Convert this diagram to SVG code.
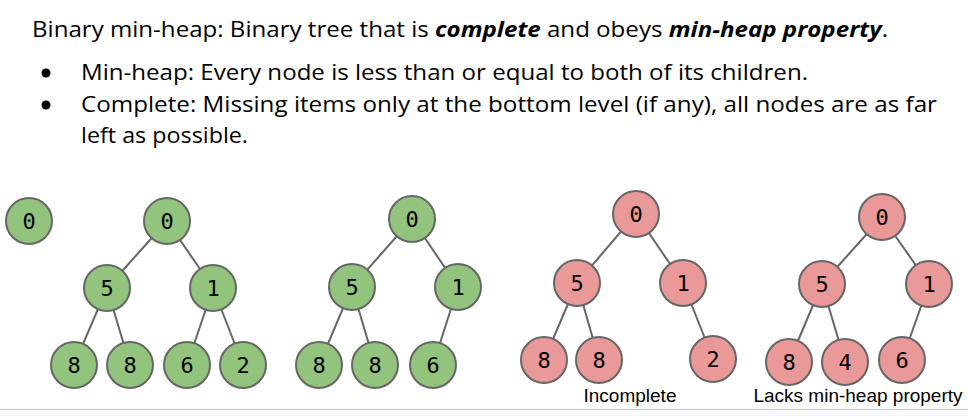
<svg xmlns="http://www.w3.org/2000/svg" width="968" height="416" viewBox="0 0 968 416">
<style>
.h{font-family:"Open Sans","Noto Sans",sans-serif;font-size:21px;fill:#000}
.bi{font-weight:bold;font-style:italic}
.g circle{fill:#93c47d;stroke:#666;stroke-width:2}
.r circle{fill:#ea9999;stroke:#666;stroke-width:2}
.n text{font-family:"DejaVu Sans Mono","Liberation Mono",monospace;font-size:22px;fill:#000;text-anchor:middle}
.e line{stroke:#666;stroke-width:2}
.lbl{font-family:"Liberation Sans",Arial,sans-serif;font-size:19px;fill:#000;text-anchor:middle}
</style>
<rect width="968" height="416" fill="#fff"/>
<rect x="0" y="409" width="968" height="7" fill="#f8f9fa"/>
<line x1="0" y1="409.5" x2="968" y2="409.5" stroke="#c8c8c8" stroke-width="1"/>
<text class="h" x="32" y="37" textLength="856" lengthAdjust="spacingAndGlyphs">Binary min-heap: Binary tree that is <tspan class="bi">complete</tspan> and obeys <tspan class="bi">min-heap property</tspan>.</text>
<circle cx="46" cy="73" r="4.5" fill="#000"/>
<circle cx="46" cy="105" r="4.5" fill="#000"/>
<text class="h" x="81" y="80" textLength="727" lengthAdjust="spacingAndGlyphs">Min-heap: Every node is less than or equal to both of its children.</text>
<text class="h" x="81" y="112" textLength="856" lengthAdjust="spacingAndGlyphs">Complete: Missing items only at the bottom level (if any), all nodes are as far</text>
<text class="h" x="81" y="143" textLength="167" lengthAdjust="spacingAndGlyphs">left as possible.</text>

<g id="connectors" class="e">
<line x1="167" y1="221" x2="107" y2="288"/>
<line x1="167" y1="221" x2="213" y2="288"/>
<line x1="107" y1="288" x2="74" y2="365"/>
<line x1="107" y1="288" x2="130" y2="365"/>
<line x1="213" y1="288" x2="187" y2="365"/>
<line x1="213" y1="288" x2="243" y2="365"/>

<line x1="412" y1="219" x2="352" y2="287"/>
<line x1="412" y1="219" x2="458" y2="287"/>
<line x1="352" y1="287" x2="319" y2="365"/>
<line x1="352" y1="287" x2="375" y2="365"/>
<line x1="458" y1="287" x2="433" y2="365"/>

<line x1="636" y1="214" x2="577" y2="283"/>
<line x1="636" y1="214" x2="683" y2="283"/>
<line x1="577" y1="283" x2="544" y2="360"/>
<line x1="577" y1="283" x2="599" y2="360"/>
<line x1="683" y1="283" x2="713" y2="359"/>

<line x1="882" y1="217" x2="822" y2="284"/>
<line x1="882" y1="217" x2="929" y2="284"/>
<line x1="822" y1="284" x2="789" y2="362"/>
<line x1="822" y1="284" x2="845" y2="362"/>
<line x1="929" y1="284" x2="902" y2="360"/>
</g>

<g class="g n">
<g id="a0"><circle cx="29" cy="221" r="23"/><text x="29" y="229">0</text></g>
<g id="b0"><circle cx="167" cy="221" r="23"/><text x="167" y="229">0</text></g>
<g id="b5"><circle cx="107" cy="288" r="23"/><text x="107" y="296">5</text></g>
<g id="b1"><circle cx="213" cy="288" r="23"/><text x="213" y="296">1</text></g>
<g id="b8a"><circle cx="74" cy="365" r="23"/><text x="74" y="373">8</text></g>
<g id="b8b"><circle cx="130" cy="365" r="23"/><text x="130" y="373">8</text></g>
<g id="b6"><circle cx="187" cy="365" r="23"/><text x="187" y="373">6</text></g>
<g id="b2"><circle cx="243" cy="365" r="23"/><text x="243" y="373">2</text></g>

<g id="c0"><circle cx="412" cy="219" r="23"/><text x="412" y="227">0</text></g>
<g id="c5"><circle cx="352" cy="287" r="23"/><text x="352" y="295">5</text></g>
<g id="c1"><circle cx="458" cy="287" r="23"/><text x="458" y="295">1</text></g>
<g id="c8a"><circle cx="319" cy="365" r="23"/><text x="319" y="373">8</text></g>
<g id="c8b"><circle cx="375" cy="365" r="23"/><text x="375" y="373">8</text></g>
<g id="c6"><circle cx="433" cy="365" r="23"/><text x="433" y="373">6</text></g>
</g>

<g class="r n">
<g id="d0"><circle cx="636" cy="214" r="23"/><text x="636" y="222">0</text></g>
<g id="d5"><circle cx="577" cy="283" r="23"/><text x="577" y="291">5</text></g>
<g id="d1"><circle cx="683" cy="283" r="23"/><text x="683" y="291">1</text></g>
<g id="d8a"><circle cx="544" cy="360" r="23"/><text x="544" y="368">8</text></g>
<g id="d8b"><circle cx="599" cy="360" r="23"/><text x="599" y="368">8</text></g>
<g id="d2"><circle cx="713" cy="359" r="23"/><text x="713" y="367">2</text></g>

<g id="e0"><circle cx="882" cy="217" r="23"/><text x="882" y="225">0</text></g>
<g id="e5"><circle cx="822" cy="284" r="23"/><text x="822" y="292">5</text></g>
<g id="e1"><circle cx="929" cy="284" r="23"/><text x="929" y="292">1</text></g>
<g id="e8"><circle cx="789" cy="362" r="23"/><text x="789" y="370">8</text></g>
<g id="e4"><circle cx="845" cy="362" r="23"/><text x="845" y="370">4</text></g>
<g id="e6"><circle cx="902" cy="360" r="23"/><text x="902" y="368">6</text></g>
</g>

<text class="lbl" x="630" y="402">Incomplete</text>
<text class="lbl" x="858" y="402">Lacks min-heap property</text>
</svg>
